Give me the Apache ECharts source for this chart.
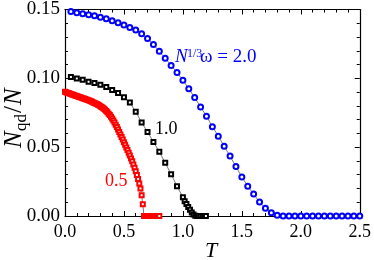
<!DOCTYPE html>
<html>
<head>
<meta charset="utf-8">
<script src="https://cdn.jsdelivr.net/npm/echarts@6/dist/echarts.min.js"></script>
<style>html,body{margin:0;padding:0;background:#fff}#c{width:374px;height:260px}</style>
</head>
<body>
<div id="c"></div>
<script>
// ---- data ----
const xTicks = ['0.0','0.5','1.0','1.5','2.0','2.5'];
const yTicks = ['0.00','0.05','0.10','0.15'];

const blueT = [0.05,0.10,0.15,0.20,0.25,0.30,0.35,0.40,0.45,0.50,0.55,0.60,0.65,0.70,0.75,0.80,0.85,0.90,0.95,1.00,
  1.05,1.10,1.15,1.20,1.25,1.30,1.35,1.40,1.45,1.50,1.55,1.60,1.65,1.70,1.75,1.80,1.85,1.90,1.95,2.00,
  2.05,2.10,2.15,2.20,2.25,2.30,2.35,2.40,2.45,2.50];
const blueN = [0.1486,0.1476,0.1469,0.1462,0.1454,0.1444,0.1433,0.1419,0.1404,0.1387,0.1370,0.1351,0.1323,0.1290,0.1246,0.1196,0.1145,0.1094,0.1043,0.0986,
  0.0925,0.0860,0.0792,0.0725,0.0649,0.0580,0.0507,0.0435,0.0359,0.0283,0.0217,0.0159,0.0101,0.0056,0.0024,0.0005,0,0,0,0,
  0,0,0,0,0,0,0,0,0,0];

const blackT = [0.05,0.10,0.15,0.20,0.25,0.30,0.35,0.40,0.45,0.50,0.55,0.60,0.65,0.70,0.75,0.80,0.85,0.90,0.95,1.00,
  1.015,1.03,1.045,1.06,1.075,1.09,1.105,1.12,1.135,1.15,1.165,1.18,1.195];
const blackN = [0.1009,0.0998,0.0990,0.0976,0.0966,0.0954,0.0937,0.0915,0.0893,0.0862,0.0824,0.0758,0.0679,0.0611,0.0538,0.0466,0.0386,0.0304,0.0217,0.0136,
  0.0107,0.0087,0.0066,0.0046,0.0026,0.0010,0.0002,0,0,0,0,0,0];

const redT = [0.00,0.01,0.02,0.03,0.04,0.05,0.06,0.07,0.08,0.09,0.10,0.11,0.12,0.13,0.14,0.15,0.16,0.17,0.18,0.19,
  0.20,0.21,0.22,0.23,0.24,0.25,0.26,0.27,0.28,0.29,0.30,0.31,0.32,0.33,0.34,0.35,0.36,0.37,0.38,0.39,
  0.40,0.41,0.42,0.43,0.44,0.45,0.46,0.47,0.48,0.49,0.50,0.51,0.52,0.53,0.54,0.55,0.56,0.57,0.58,0.59,
  0.60,0.61,0.62,0.63,0.64,0.65,0.66,0.67,0.68,0.69,0.70,0.71,0.72,0.73,0.74,0.75,0.76,0.77,0.78,0.79,0.80];
const redN = [0.0902,0.0899,0.0896,0.0893,0.0890,0.0886,0.0883,0.0880,0.0877,0.0874,0.0871,0.0868,0.0865,0.0862,0.0859,0.0856,0.0853,0.0850,0.0847,0.0844,
  0.0840,0.0837,0.0833,0.0829,0.0825,0.0821,0.0817,0.0813,0.0809,0.0804,0.0798,0.0792,0.0786,0.0779,0.0771,0.0762,0.0753,0.0743,0.0733,0.0721,
  0.0708,0.0694,0.0679,0.0663,0.0646,0.0628,0.0610,0.0592,0.0574,0.0555,0.0536,0.0517,0.0498,0.0479,0.0459,0.0439,0.0418,0.0397,0.0374,0.0351,
  0.0325,0.0298,0.0268,0.0236,0.0200,0.0150,0.0085,0,0,0,0,0,0,0,0,0,0,0,0,0,0];

const seriesNames = ['0.5','1.0','2.0'];

// ---- chart ----
const pair = (t, n) => t.map((v, i) => [v, n[i]]);
const serif = '"Liberation Serif","Times New Roman",serif';
const chart = echarts.init(document.getElementById('c'), null, {renderer: 'canvas'});

function axisBase(extra) {
  return Object.assign({
    type: 'value',
    axisLine: {show: true, onZero: false, lineStyle: {color: '#000', width: 1.2}},
    axisTick: {show: true, inside: true, length: 5, lineStyle: {color: '#000', width: 1}},
    minorTick: {show: true, splitNumber: 5, length: 3, lineStyle: {color: '#000', width: 1}},
    splitLine: {show: false},
    minorSplitLine: {show: false}
  }, extra);
}
const xMin = parseFloat(xTicks[0]), xMax = parseFloat(xTicks[xTicks.length - 1]);
const yMin = parseFloat(yTicks[0]), yMax = parseFloat(yTicks[yTicks.length - 1]);

const lineCol = '#555';
const option = {
  animation: false,
  grid: {left: 65, right: 12, top: 9, bottom: 44},
  xAxis: [
    axisBase({min: xMin, max: xMax, interval: 0.5, position: 'bottom',
      axisLabel: {show: true, margin: 7, color: '#000', fontSize: 18, fontFamily: serif,
        formatter: v => v.toFixed(1)}}),
    axisBase({min: xMin, max: xMax, interval: 0.5, position: 'top', axisLabel: {show: false}})
  ],
  yAxis: [
    axisBase({min: yMin, max: yMax, interval: 0.05, position: 'left',
      axisLabel: {show: true, margin: 5, color: '#000', fontSize: 19, fontFamily: serif,
        formatter: v => v.toFixed(2)}}),
    axisBase({min: yMin, max: yMax, interval: 0.05, position: 'right', axisLabel: {show: false}})
  ],
  series: [
    {name: seriesNames[0], type: 'line', data: pair(redT, redN), symbol: 'emptyRect', symbolSize: 4,
      itemStyle: {color: '#ff0000', borderWidth: 1}, lineStyle: {color: lineCol, width: 0.8}, z: 3},
    {name: seriesNames[1], type: 'line', data: pair(blackT, blackN), symbol: 'emptyRect', symbolSize: 4,
      itemStyle: {color: '#000', borderWidth: 1}, lineStyle: {color: lineCol, width: 0.8}, z: 4},
    {name: seriesNames[2], type: 'line', data: pair(blueT, blueN), symbol: 'emptyCircle', symbolSize: 5,
      itemStyle: {color: '#0000ff', borderWidth: 1}, lineStyle: {color: lineCol, width: 0.8}, z: 5}
  ],
  graphic: [
    {type: 'text', x: 175, y: 63 - 5.7, style: {text: 'N', font: 'italic 19px ' + serif, fill: '#0000ff', textVerticalAlign: 'middle'}},
    {type: 'text', x: 187, y: 57 - 3.6, style: {text: '1/3', font: '12px ' + serif, fill: '#0000ff', textVerticalAlign: 'middle'}},
    {type: 'text', x: 200, y: 63 - 5.7, style: {text: 'ω = ' + seriesNames[2], font: '19px ' + serif, fill: '#0000ff', textVerticalAlign: 'middle'}},
    {type: 'text', x: 155, y: 135 - 5.4, style: {text: seriesNames[1], font: '18px ' + serif, fill: '#000', textVerticalAlign: 'middle'}},
    {type: 'text', x: 105, y: 187 - 5.4, style: {text: seriesNames[0], font: '18px ' + serif, fill: '#ff0000', textVerticalAlign: 'middle'}},
    {type: 'text', x: 205, y: 258 - 6.6, style: {text: 'T', font: 'italic 22px ' + serif, fill: '#000', textVerticalAlign: 'middle'}},
    {type: 'group', x: 22, y: 148, rotation: Math.PI / 2, children: [
      {type: 'text', x: 0, y: -7.5, style: {text: 'N', font: 'italic 25px ' + serif, fill: '#000', textVerticalAlign: 'middle'}},
      {type: 'text', x: 17, y: 5 - 5.1, style: {text: 'qd', font: '17px ' + serif, fill: '#000', textVerticalAlign: 'middle'}},
      {type: 'text', x: 35, y: -7.5, style: {text: '/', font: '25px ' + serif, fill: '#000', textVerticalAlign: 'middle'}},
      {type: 'text', x: 43, y: -7.5, style: {text: 'N', font: 'italic 25px ' + serif, fill: '#000', textVerticalAlign: 'middle'}}
    ]}
  ]
};
chart.setOption(option);
</script>
</body>
</html>
